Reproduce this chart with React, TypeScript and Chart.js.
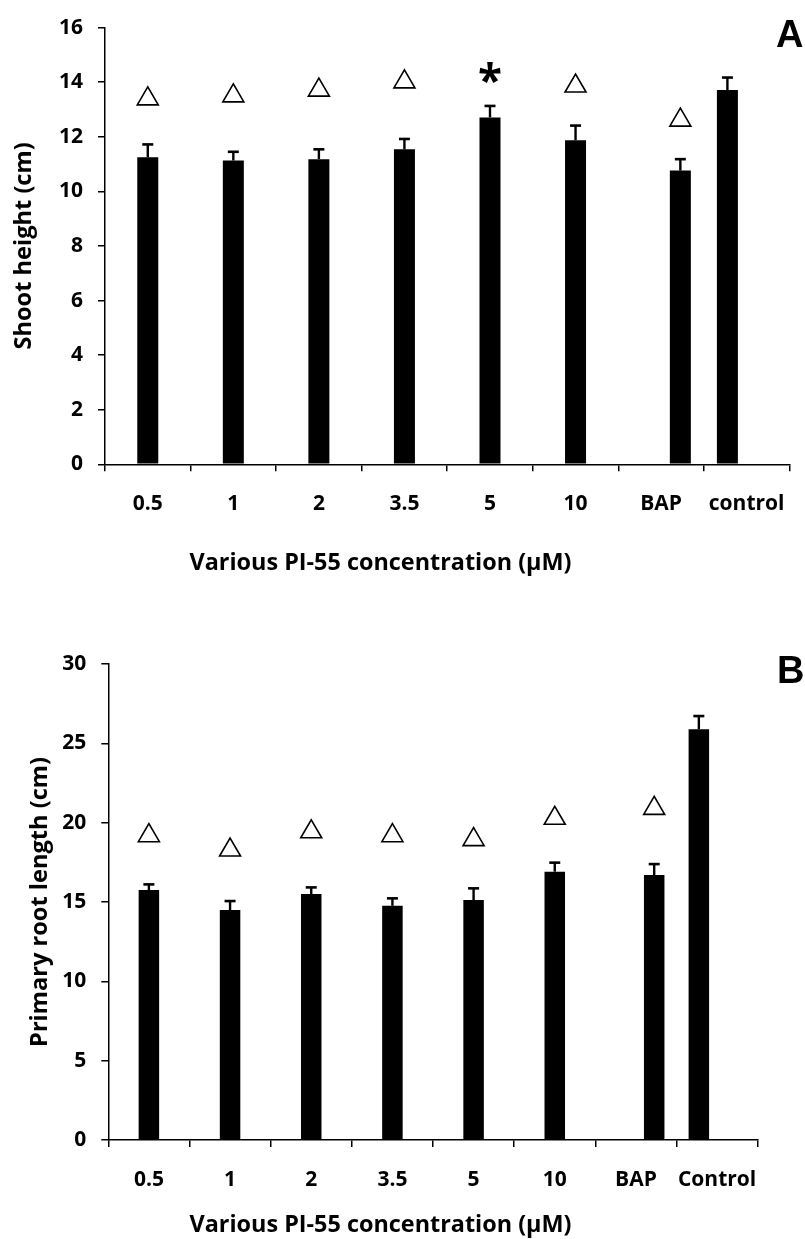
import React, { useEffect, useRef } from 'react';
import { Chart, registerables } from 'chart.js';

Chart.register(...registerables);

const FONT = "'Open Sans', sans-serif";

// Treatments shared by both panels
const treatments = ['0.5', '1', '2', '3.5', '5', '10', 'BAP'];
const shootLabels = [...treatments, 'control'];
const rootLabels = [...treatments, 'Control'];

// Panel A: shoot height (cm), means and standard errors
const shootMeans = [11.25, 11.13, 11.18, 11.54, 12.71, 11.87, 10.76, 13.71];
const shootErrors = [0.47, 0.32, 0.36, 0.38, 0.42, 0.54, 0.42, 0.46];
const shootMarks = ['△', '△', '△', '△', '*', '△', '△', ''];
const shootMarkLevels = [13.17, 13.28, 13.49, 13.79, 13.96, 13.64, 12.39, 0];
const shootTicks = [0, 2, 4, 6, 8, 10, 12, 14, 16];

// Panel B: primary root length (cm), means and standard errors
const rootMeans = [15.75, 14.49, 15.5, 14.76, 15.12, 16.91, 16.7, 25.88];
const rootErrors = [0.36, 0.57, 0.42, 0.47, 0.74, 0.57, 0.69, 0.84];
const rootMarks = ['△', '△', '△', '△', '△', '△', '△', ''];
const rootMarkLevels = [18.8, 17.9, 19.05, 18.8, 18.55, 19.9, 20.52, 0];
const rootTicks = [0, 5, 10, 15, 20, 25, 30];

const xTitle = 'Various PI-55 concentration (µM)';

// 0 = bar centred on its category, 1 = right half, -1 = left half
const barSlot = [0, 0, 0, 0, 0, 0, 1, -1];

type PanelSpec = {
  letter: string;
  labels: string[];
  means: number[];
  errors: number[];
  marks: string[];
  markLevels: number[];
  ticks: number[];
  yTitle: string;
  height: number;
  area: { left: number; right: number; top: number; bottom: number };
  yTitlePad: number;
  xTitleBaseline: number;
  letterPos: [number, number];
  barWidth: number;
};

function slotData(means: number[], side: number) {
  return means.map((v, i) => {
    const s = barSlot[i];
    if (side === 0) return s === 1 ? 0 : v;
    return s === 0 ? null : s === 1 ? v : 0;
  });
}

function BarPanel({ spec }: { spec: PanelSpec }) {
  const ref = useRef<HTMLCanvasElement>(null);

  useEffect(() => {
    const canvas = ref.current!;
    const W = 805;
    const H = spec.height;
    const a = spec.area;

    const decor = {
      id: 'decor',
      afterDatasetsDraw(chart: any) {
        const ctx = chart.ctx as CanvasRenderingContext2D;
        const y = chart.scales.y;
        ctx.save();
        ctx.strokeStyle = '#000';
        ctx.fillStyle = '#000';
        spec.means.forEach((m, i) => {
          const el = chart.getDatasetMeta(barSlot[i] === 1 ? 1 : 0).data[i];
          const x = el.x;
          const y0 = y.getPixelForValue(m);
          const y1 = y.getPixelForValue(m + spec.errors[i]);
          // upper error whisker with cap
          ctx.lineWidth = 2.4;
          ctx.beginPath();
          ctx.moveTo(x, y0);
          ctx.lineTo(x, y1);
          ctx.stroke();
          ctx.lineWidth = 2.6;
          ctx.beginPath();
          ctx.moveTo(x - 5.5, y1);
          ctx.lineTo(x + 5.5, y1);
          ctx.stroke();

          const mark = spec.marks[i];
          const ym = y.getPixelForValue(spec.markLevels[i]);
          if (mark === '△') {
            ctx.lineWidth = 1.6;
            ctx.beginPath();
            ctx.moveTo(x - 10.5, ym);
            ctx.lineTo(x + 10.5, ym);
            ctx.lineTo(x, ym - 18);
            ctx.closePath();
            ctx.fillStyle = '#fff';
            ctx.fill();
            ctx.stroke();
            ctx.fillStyle = '#000';
          } else if (mark === '*') {
            ctx.font = `bold 44px ${FONT}`;
            ctx.textAlign = 'center';
            ctx.textBaseline = 'alphabetic';
            const tm = ctx.measureText('*');
            ctx.fillText('*', x, ym - tm.actualBoundingBoxDescent);
          }
        });
        ctx.restore();
      },
      afterDraw(chart: any) {
        const ctx = chart.ctx as CanvasRenderingContext2D;
        ctx.save();
        ctx.fillStyle = '#000';
        ctx.textAlign = 'center';
        ctx.textBaseline = 'alphabetic';
        ctx.font = `bold 23.4px ${FONT}`;
        ctx.fillText(xTitle, 380.5, spec.xTitleBaseline);
        ctx.textAlign = 'left';
        ctx.font = "bold 38px 'Liberation Sans', sans-serif";
        ctx.fillText(spec.letter, spec.letterPos[0], spec.letterPos[1]);
        ctx.restore();
      },
    };

    const t = spec.ticks;
    const chart = new Chart(canvas, {
      type: 'bar',
      data: {
        labels: spec.labels,
        datasets: [
          {
            data: slotData(spec.means, 0),
            backgroundColor: '#000',
            borderWidth: 0,
            maxBarThickness: spec.barWidth,
          },
          {
            data: slotData(spec.means, 1),
            backgroundColor: '#000',
            borderWidth: 0,
            maxBarThickness: spec.barWidth,
          },
        ],
      },
      options: {
        responsive: false,
        animation: false,
        skipNull: true,
        categoryPercentage: 0.9,
        barPercentage: 0.9,
        layout: {
          padding: { left: 0, top: a.top, right: W - a.right, bottom: 0 },
        },
        plugins: {
          legend: { display: false },
          tooltip: { enabled: false },
        },
        scales: {
          x: {
            offset: true,
            grid: {
              offset: true,
              drawOnChartArea: false,
              drawTicks: true,
              tickLength: 7,
              color: '#000',
              lineWidth: 1.5,
            },
            border: { display: true, color: '#000', width: 1.5 },
            ticks: {
              color: '#000',
              padding: 20,
              maxRotation: 0,
              autoSkip: false,
              font: { family: FONT, size: 21, weight: 'bold' },
            },
            afterFit: (s: any) => {
              s.height = H - a.bottom;
            },
          },
          y: {
            min: t[0],
            max: t[t.length - 1],
            grid: {
              drawOnChartArea: false,
              drawTicks: true,
              tickLength: 7,
              color: '#000',
              lineWidth: 1.5,
            },
            border: { display: true, color: '#000', width: 1.5 },
            ticks: {
              stepSize: t[1] - t[0],
              color: '#000',
              padding: 15,
              font: { family: FONT, size: 21, weight: 'bold' },
            },
            title: {
              display: true,
              text: spec.yTitle,
              color: '#000',
              padding: { top: spec.yTitlePad, bottom: 0 },
              font: { family: FONT, size: 23.6, weight: 'bold' },
            },
            afterFit: (s: any) => {
              s.width = a.left;
            },
          },
        },
      } as any,
      plugins: [decor],
    });
    return () => chart.destroy();
  }, [spec]);

  return (
    <canvas
      ref={ref}
      width={805}
      height={spec.height}
      style={{ display: 'block', width: 805, height: spec.height }}
    />
  );
}

const panelA: PanelSpec = {
  letter: 'A',
  labels: shootLabels,
  means: shootMeans,
  errors: shootErrors,
  marks: shootMarks,
  markLevels: shootMarkLevels,
  ticks: shootTicks,
  yTitle: 'Shoot height (cm)',
  height: 600,
  area: { left: 105, right: 796.7, top: 18.3, bottom: 464.3 },
  yTitlePad: 10,
  xTitleBaseline: 570,
  letterPos: [776, 47],
  barWidth: 21,
};

const panelB: PanelSpec = {
  letter: 'B',
  labels: rootLabels,
  means: rootMeans,
  errors: rootErrors,
  marks: rootMarks,
  markLevels: rootMarkLevels,
  ticks: rootTicks,
  yTitle: 'Primary root length (cm)',
  height: 639,
  area: { left: 108.3, right: 757.7, top: 64, bottom: 540 },
  yTitlePad: 26,
  xTitleBaseline: 631.7,
  letterPos: [777, 83],
  barWidth: 20.5,
};

export default function App() {
  return (
    <div
      style={{
        position: 'absolute',
        left: 0,
        top: 0,
        width: 805,
        height: 1239,
        background: '#fff',
      }}
    >
      <BarPanel spec={panelA} />
      <BarPanel spec={panelB} />
    </div>
  );
}
